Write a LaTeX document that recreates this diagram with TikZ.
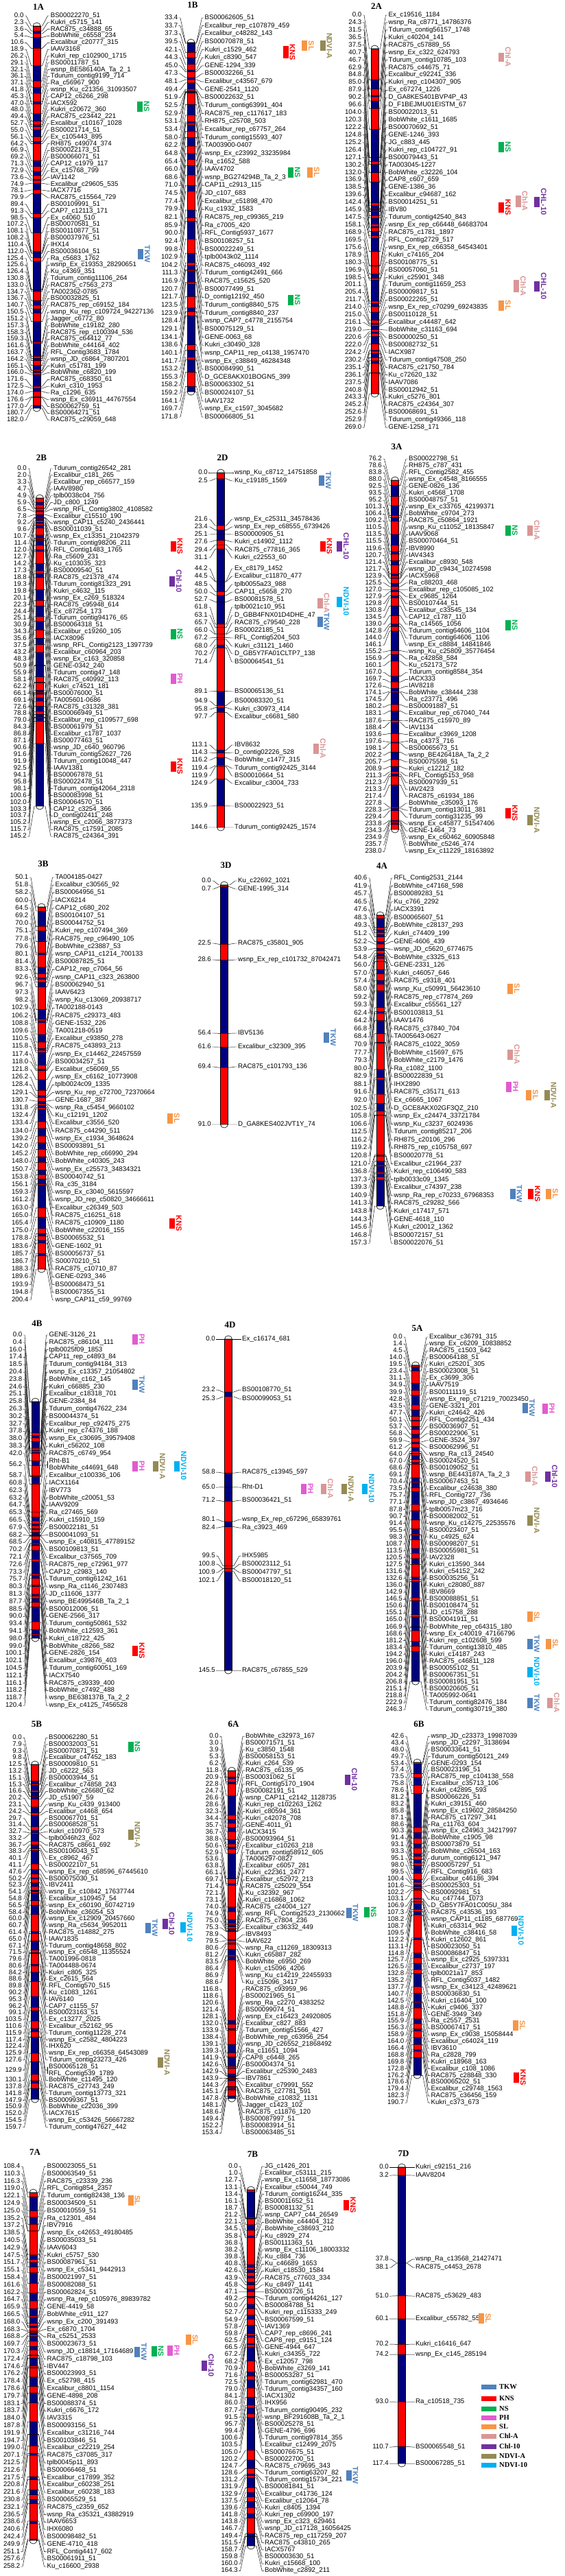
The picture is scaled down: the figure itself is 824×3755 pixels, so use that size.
\documentclass[tikz,border=0pt]{standalone}
\usepackage{fontspec}
\usepackage{tikz}
\newfontfamily\mkfont{Liberation Sans}
\newfontfamily\ttlfont{Liberation Serif}

\definecolor{chrr}{HTML}{FF0000}
\definecolor{chrb}{HTML}{000080}
\definecolor{TKW}{HTML}{4F81BD}
\definecolor{KNS}{HTML}{FF0000}
\definecolor{NS}{HTML}{00B050}
\definecolor{PH}{HTML}{E15BD0}
\definecolor{SL}{HTML}{F79646}
\definecolor{ChlA}{HTML}{D99694}
\definecolor{Chl10}{HTML}{7030A0}
\definecolor{NDVIA}{HTML}{948A54}
\definecolor{NDVI10}{HTML}{00B0F0}

\def\hw{5.5}
\newcounter{qn}

% bar centre, bar top/bottom, first/last cM, first label, label step, title y
\newcommand\setchr[8]{\def\xb{#1}\def\ya{#2}\def\yb{#3}\def\pa{#4}\def\pb{#5}\def\la{#6}\def\dy{#7}\def\ty{#8}\def\pr{-9}}

\newcommand\chrbody{%
  \draw[line width=0.6pt] (\xb-\hw,\ya) rectangle (\xb+\hw,\yb);
  \draw[line width=0.6pt,fill=white] (\xb-\hw,\ya) arc[start angle=180,end angle=360,x radius=\hw,y radius=5] -- cycle;
  \draw[line width=0.6pt,fill=white] (\xb-\hw,\yb) arc[start angle=180,end angle=0,x radius=\hw,y radius=5] -- cycle;
}

\newcommand\densechr[2]{%
  \pgfmathsetmacro\sc{(\yb-\ya)/(\pb-\pa)}%
  \pgfmathtruncatemacro\prn{\pr+1}%
  \node[ttl] (c#1) at (\xb+2.5,\ty) {#1};
  \foreach \p/\m [count=\i, remember=\p as \q (initially \pa)] in {#2}{%
    \ifodd\i\def\cc{chrb}\else\def\cc{chrr}\fi
    \fill[fill=\cc] (\xb-\hw,{\ya+(\q-\pa)*\sc}) rectangle (\xb+\hw,{\ya+(\p-\pa)*\sc});
  }
  \foreach \p/\m [count=\i] in {#2}{%
    \pgfmathsetmacro\yp{\ya+(\p-\pa)*\sc}%
    \pgfmathsetmacro\yl{\la+(\i-1)*\dy}%
    \node[mrk] (c#1-m\i) at (\xb+20,\yl) {\m};
    \ifnum\i=\pr\relax\else
      \ifnum\i=\prn\relax
        \draw[lnk] (\xb+18,\yl-\dy) -- (\xb+18,\yl);
        \pgfmathsetmacro\yl{\yl-\dy/2}%
        \node[num] (c#1-n\i) at (\xb-19,\yl) {\p};
        \draw[lnk] (c#1-n\i.east) ++(1,0) -- ++(2.5,0) -- (\xb-\hw-2.5,\yp) -- (\xb+\hw+2.5,\yp) -- (\xb+15,\yl) -- (\xb+18,\yl);
      \else
        \node[num] (c#1-n\i) at (\xb-19,\yl) {\p};
        \draw[lnk] (c#1-n\i.east) ++(1,0) -- ++(2.5,0) -- (\xb-\hw-2.5,\yp) -- (\xb+\hw+2.5,\yp) -- ([xshift=-4]c#1-m\i.west) -- ([xshift=-1]c#1-m\i.west);
      \fi
    \fi
  }
  \chrbody
}

\newcommand\sparsechr[2]{%
  \pgfmathsetmacro\sc{(\yb-\ya)/(\pb-\pa)}%
  \node[ttl] (c#1) at (\xb+2.5,\ty) {#1};
  \foreach \p/\lq/\m/\cl [remember=\p as \q (initially \pa)] in {#2}{%
    \fill[fill=chr\cl] (\xb-\hw,{\ya+(\q-\pa)*\sc}) rectangle (\xb+\hw,{\ya+(\p-\pa)*\sc});
  }
  \foreach \p/\lq/\m/\cl [count=\i] in {#2}{%
    \pgfmathsetmacro\yp{\ya+(\p-\pa)*\sc}%
    \node[mrk] (c#1-m\i) at (\xb+20,\lq) {\m};
    \node[num] (c#1-n\i) at (\xb-19,\lq) {\p};
    \draw[lnk] (c#1-n\i.east) ++(1,0) -- ++(2.5,0) -- (\xb-\hw-2.5,\yp) -- (\xb+\hw+2.5,\yp) -- ([xshift=-4]c#1-m\i.west) -- ([xshift=-1]c#1-m\i.west);
  }
  \chrbody
}

% [height] x, y, colour, trait
\newcommand\qtl[5][15]{%
  \stepcounter{qn}%
  \fill[fill=#4] (#2,#3-#1/2) rectangle ++(8,#1);
  \node[qlab,text=#4] (q\theqn) at (#2+14,#3) {#5};
}

\begin{document}
\catcode`\_=12
\begin{tikzpicture}[x=1pt,y=-1pt,
  mrk/.style={anchor=west,inner sep=0pt,text height=7pt,text depth=2pt,font=\mkfont\fontsize{9.7}{10}\selectfont},
  num/.style={anchor=east,inner sep=0pt,text height=7pt,text depth=2pt,font=\mkfont\fontsize{9.7}{10}\selectfont},
  lnk/.style={line width=0.45pt},
  ttl/.style={inner sep=0pt,font=\ttlfont\bfseries\fontsize{13}{13}\selectfont},
  qlab/.style={rotate=-90,inner sep=0pt,font=\mkfont\bfseries\fontsize{11}{11}\selectfont},
  leg/.style={anchor=west,inner sep=0pt,font=\ttlfont\bfseries\fontsize{10.5}{11}\selectfont}]
\useasboundingbox (0,0) rectangle (824,3755);

% 1A
\setchr{53.6}{38}{595}{0}{182}{23}{9.82}{10}
\densechr{1A}{0.0/BS00022270_51,
2.3/Kukri_c5715_141,
3.6/RAC875_c34888_65,
5.4/BobWhite_c6558_234,
10.6/Excalibur_c20777_315,
18.9/IAAV3168,
26.2/Kukri_rep_c102900_1715,
29.1/BS00011787_51,
32.1/wsnp_BE586140A_Ta_2_1,
36.1/Tdurum_contig9199_714,
37.1/Ra_c56967_900,
41.8/wsnp_Ku_c21356_31093507,
45.3/CAP12_c6266_298,
47.0/IACX592,
48.0/Kukri_c20672_360,
49.4/RAC875_c23442_221,
52.7/Excalibur_c10167_1028,
55.0/BS00021714_51,
56.1/Ex_c105443_895,
64.2/RH875_c49074_374,
66.9/BS00022173_51,
69.2/BS00066071_51,
71.3/CAP12_c1979_117,
72.9/Ex_c15768_799,
73.6/IAV1142,
74.9/Excalibur_c29605_535,
78.1/IACX7716,
79.9/RAC875_c15564_729,
89.4/BS00109991_51,
91.3/CAP7_c12113_171,
98.5/Ex_c4060_510,
107.2/BS00070581_51,
108.1/BS00110877_51,
108.2/BS00037976_51,
110.4/IHX14,
112.0/BS00036104_51,
125.4/Ra_c5683_1762,
125.6/wsnp_Ex_c19353_28290651,
126.4/Ku_c4369_351,
130.8/Tdurum_contig11106_264,
133.0/RAC875_c7563_273,
134.7/TA002362-0785,
136.7/BS00032825_51,
140.7/RAC875_rep_c69152_184,
150.5/wsnp_Ku_rep_c109724_94227136,
151.2/Jagger_c6772_80,
157.3/BobWhite_c19182_280,
158.3/RAC875_rep_c100394_536,
159.3/RAC875_c64412_77,
161.6/BobWhite_c44164_402,
163.7/RFL_Contig3683_1784,
164.2/wsnp_JD_c6864_7807201,
165.1/Kukri_c51781_199,
166.0/BobWhite_c6820_199,
171.6/RAC875_c68350_61,
172.5/Kukri_c310_1953,
174.0/Ra_c1296_635,
176.6/wsnp_Ex_c36911_44767554,
177.0/BS00062759_51,
180.7/BS00064271_51,
182.0/RAC875_c29059_648}

% 1B
\setchr{278.5}{62}{571}{33.4}{171.8}{26}{11.64}{7}
\densechr{1B}{33.4/BS00062605_51,
33.7/Excalibur_rep_c107879_459,
37.3/Excalibur_c48282_143,
39.5/BS00070878_51,
42.1/Kukri_c1529_462,
44.3/Kukri_c8390_547,
45.0/GENE-1294_339,
47.3/BS00032266_51,
48.1/Excalibur_c43567_679,
49.4/GENE-2541_1120,
51.9/BS00022632_51,
52.5/Tdurum_contig63991_404,
52.9/RAC875_rep_c117617_183,
53.1/RH875_c25708_503,
53.4/Excalibur_rep_c67757_264,
58.0/Tdurum_contig15593_407,
62.2/TA003900-0407,
64.8/wsnp_Ex_c23992_33235984,
65.4/Ra_c1652_588,
66.0/IAAV4702,
68.6/wsnp_BG274294B_Ta_2_3,
71.0/CAP11_c2913_115,
74.5/JD_c107_683,
77.4/Excalibur_c51898_470,
79.9/Ku_c1932_1583,
82.1/RAC875_rep_c99365_219,
85.9/Ra_c7005_420,
90.0/RFL_Contig5937_1677,
92.4/BS00108257_51,
99.8/BS00022249_51,
102.9/tplb0043k02_1114,
104.2/RAC875_c46093_492,
111.3/Tdurum_contig42491_666,
116.9/RAC875_c15625_520,
120.7/BS00077499_51,
121.7/D_contig12192_450,
123.5/Tdurum_contig8840_575,
123.9/Tdurum_contig8840_237,
128.4/wsnp_CAP7_c4778_2155754,
129.1/BS00075129_51,
134.1/GENE-0063_68,
138.6/Kukri_c30490_328,
140.1/wsnp_CAP11_rep_c4138_1957470,
141.7/wsnp_Ex_c38849_46284348,
153.2/BS00084990_51,
155.3/D_GCE8AKX01BOGN5_399,
158.2/BS00063302_51,
159.2/BS00024107_51,
164.1/IAAV1732,
169.7/wsnp_Ex_c1597_3045682,
171.8/BS00066805_51}

% 2A
\setchr{546.5}{71}{574}{0}{269}{22}{10.93}{9}
\densechr{2A}{0.0/Ex_c19516_1184,
24.3/wsnp_Ra_c8771_14786376,
31.5/Tdurum_contig56157_1748,
36.5/Kukri_c40204_141,
37.5/RAC875_c57889_55,
40.7/wsnp_Ex_c322_624793,
46.7/Tdurum_contig10785_103,
62.9/RAC875_c44675_71,
84.8/Excalibur_c92241_336,
85.0/Kukri_rep_c104307_905,
87.9/Ex_c67274_1226,
90.2/D_GA8KES401BVP4P_43,
96.6/D_F1BEJMU01EISTM_67,
104.0/BS00022013_51,
120.3/BobWhite_c1611_1685,
122.2/BS00070692_51,
124.8/GENE-1246_393,
125.2/JG_c883_445,
126.4/Kukri_rep_c104727_91,
127.1/BS00079443_51,
130.2/TA003045-1227,
132.0/BobWhite_c32226_104,
136.9/CAP8_c607_659,
138.5/GENE-1386_36,
139.6/Excalibur_c94687_162,
142.4/BS00014251_51,
145.9/IBV80,
147.5/Tdurum_contig42540_843,
158.1/wsnp_Ex_rep_c66448_64683704,
168.9/RAC875_c1781_1897,
169.5/RFL_Contig2729_517,
175.6/wsnp_Ex_rep_c66358_64543401,
178.9/Kukri_c74165_204,
180.3/BS00108775_51,
196.9/BS00057060_51,
198.5/Kukri_c25901_348,
201.1/Tdurum_contig11659_253,
205.4/BS00009817_51,
211.7/BS00022265_51,
214.0/wsnp_Ex_rep_c70299_69243835,
215.0/BS00110128_51,
216.1/Excalibur_c44487_642,
219.0/BobWhite_c31163_694,
220.6/BS00000250_51,
222.0/BS00082732_51,
224.2/IACX987,
230.2/Tdurum_contig47508_250,
235.1/RAC875_c21750_784,
236.1/Ku_c72620_132,
237.5/IAAV7086,
240.8/BS00012942_51,
243.3/Kukri_c5276_801,
245.2/RAC875_c24364_307,
252.6/BS00068691_51,
252.9/Tdurum_contig49366_118,
269.0/GENE-1258_171}

% 2B
\setchr{58}{726}{1175}{0}{145.2}{683}{9.93}{667}
\densechr{2B}{0.0/Tdurum_contig26542_281,
2.0/Excalibur_c181_265,
3.3/Excalibur_rep_c66577_159,
4.7/IAAV8980,
4.9/tplb0038c04_756,
5.9/JD_c800_1249,
6.5/wsnp_RFL_Contig3802_4108582,
7.8/Excalibur_c15510_190,
9.2/wsnp_CAP11_c5240_2436441,
9.6/BS00011039_51,
10.7/wsnp_Ex_c13351_21042379,
11.4/Tdurum_contig98206_211,
12.0/RFL_Contig1483_1765,
12.7/Ra_c5609_231,
14.2/Ku_c103035_323,
17.3/BS00009540_51,
18.8/RAC875_c21378_474,
19.3/Tdurum_contig81323_291,
19.8/Kukri_c4632_115,
20.1/wsnp_Ex_c269_518324,
22.3/RAC875_c95948_614,
24.4/Ex_c87254_173,
25.1/Tdurum_contig94176_65,
30.9/BS00064318_51,
34.3/Excalibur_c19260_105,
35.6/IACX8096,
37.5/wsnp_RFL_Contig2123_1397739,
43.2/Excalibur_c60964_203,
48.3/wsnp_Ex_c163_320858,
50.9/GENE-0342_240,
55.9/Tdurum_contig47_148,
58.1/RAC875_c40992_113,
62.2/Kukri_c74521_181,
66.1/BS00076000_51,
69.1/TA005601-0686,
72.6/RAC875_c31328_381,
78.8/BS00066949_51,
79.0/Excalibur_rep_c109577_698,
84.3/BS00061979_51,
86.8/Excalibur_c1787_1037,
87.1/BS00077463_51,
90.6/wsnp_JD_c640_960796,
91.6/Tdurum_contig52627_726,
91.9/Tdurum_contig10048_447,
92.5/IAAV1381,
94.1/BS00067878_51,
95.8/BS00022478_51,
98.1/Tdurum_contig42064_2318,
100.6/BS00083998_51,
102.0/BS00064570_51,
103.3/CAP12_c3254_366,
103.7/D_contig02411_248,
105.2/wsnp_Ex_c2066_3877373,
115.7/RAC875_c17591_2085,
145.2/RAC875_c24364_391}

% 2D
\setchr{322}{689}{1206}{0}{144.6}{0}{0}{667}
\sparsechr{2D}{0.0/689/wsnp_Ku_c8712_14751858/r,
2.5/701/Ku_c19185_1569/r,
21.6/757/wsnp_Ex_c25311_34578436/b,
23.4/768/wsnp_Ex_rep_c68555_6739426/r,
25.1/779/BS00000905_51/b,
27.6/790/Kukri_c14902_1112/b,
29.4/802/RAC875_c77816_365/r,
31.1/813/Kukri_c22553_60/r,
44.2/829/Ex_c8179_1452/b,
44.5/840/Excalibur_c11870_477/b,
48.5/852/tplb0055a23_988/b,
50.0/863/CAP11_c5658_270/r,
52.7/874/BS00081578_51/b,
61.8/885/tplb0021c10_951/b,
63.1/897/D_GBB4FNX01D4DHE_47/r,
65.7/908/RAC875_c79540_228/r,
66.0/919/BS00022185_51/r,
67.2/930/RFL_Contig5204_503/r,
68.0/942/Kukri_c31121_1460/r,
70.2/953/D_GB5Y7FA01CLTP7_138/r,
71.4/965/BS00064541_51/b,
89.1/1008/BS00065136_51/r,
94.9/1022/BS00083320_51/b,
95.8/1034/Kukri_c30973_414/r,
97.7/1045/Excalibur_c6681_580/b,
113.1/1086/IBV8632/r,
114.3/1097/D_contig02226_528/b,
116.2/1108/BobWhite_c1477_315/r,
119.4/1120/Tdurum_contig92425_3144/b,
119.9/1131/BS00010664_51/r,
124.9/1142/Excalibur_c3004_733/r,
135.9/1175/BS00022923_51/b,
144.6/1206/Tdurum_contig92425_1574/r}

% 3A
\setchr{576}{700}{1209}{76.2}{238}{669}{10.04}{651}
\densechr{3A}{76.2/BS00022798_51,
78.6/RH875_c787_431,
83.8/RFL_Contig2582_455,
88.0/wsnp_Ex_c4548_8166555,
92.5/GENE-0826_136,
93.5/Kukri_c4568_1708,
95.2/BS00048757_51,
101.3/wsnp_Ex_c33765_42199371,
106.4/BobWhite_c9704_273,
109.2/RAC875_c50864_1921,
110.5/wsnp_Ku_c11052_18135847,
113.5/IAAV9068,
115.5/BS00070464_51,
119.6/IBV8990,
120.7/IAV4343,
121.4/Excalibur_c8930_548,
121.7/wsnp_JD_c9434_10274598,
123.9/IACX5968,
125.5/Ra_c88203_468,
127.0/Excalibur_rep_c105085_102,
127.9/Ex_c9685_1264,
129.8/BS00107444_51,
130.8/Excalibur_c33545_134,
134.5/CAP12_c1787_110,
139.0/Ra_c14565_1056,
142.8/Tdurum_contig64606_1104,
144.0/Tdurum_contig64606_1106,
146.1/wsnp_Ex_c8884_14841846,
155.2/wsnp_Ku_c25809_35776454,
156.9/Ra_c42858_584,
160.1/Ku_c52173_572,
167.0/Tdurum_contig8584_354,
169.7/IACX333,
172.6/IAV8218,
174.1/BobWhite_c38444_238,
174.5/Ra_c23771_496,
180.2/BS00091887_51,
183.1/Excalibur_rep_c67040_744,
187.6/RAC875_c15970_89,
188.4/IAV1134,
193.6/Excalibur_c3969_1208,
197.6/Ra_c4373_716,
198.1/BS00065673_51,
202.2/wsnp_BE426418A_Ta_2_2,
205.7/BS00075598_51,
208.9/Kukri_c12212_182,
211.3/RFL_Contig5153_958,
212.3/BS00097939_51,
213.3/IAV2423,
217.4/RAC875_c61934_186,
227.8/BobWhite_c35093_176,
228.3/Tdurum_contig13011_381,
229.4/Tdurum_contig31235_99,
233.8/wsnp_Ex_c45877_51547406,
234.3/GENE-1464_73,
234.9/wsnp_Ex_c60462_60905848,
235.7/BobWhite_c5246_474,
238.0/wsnp_Ex_c11229_18163892}

% 3B
\setchr{60.5}{1322}{1850}{50.1}{200.4}{1279}{11.2}{1259}
\densechr{3B}{50.1/TA004185-0427,
51.8/Excalibur_c30565_92,
58.2/BS00064956_51,
60.0/IACX6214,
64.5/CAP12_c680_202,
69.2/BS00104107_51,
70.0/BS00044752_51,
75.1/Kukri_rep_c107494_369,
77.8/RAC875_rep_c96490_105,
79.6/BobWhite_c23887_53,
80.1/wsnp_CAP11_c1214_700133,
81.4/BS00087825_51,
83.3/CAP12_rep_c7064_56,
92.6/wsnp_CAP11_c323_263800,
96.7/BS00062940_51,
97.3/IAAV6423,
98.2/wsnp_Ku_c13069_20938717,
102.9/TA002188-0143,
106.2/RAC875_c29373_483,
108.8/GENE-1532_226,
109.6/TA001218-0519,
110.5/Excalibur_c93850_278,
115.8/RAC875_c43893_213,
117.4/wsnp_Ex_c14462_22457559,
118.0/BS00034257_51,
121.8/Excalibur_c56069_55,
126.2/wsnp_Ex_c6162_10773908,
128.4/tplb0024c09_1335,
129.1/wsnp_Ku_rep_c72700_72370664,
130.7/GENE-1687_387,
131.8/wsnp_Ra_c5454_9660102,
132.4/Ku_c12191_1202,
133.4/Excalibur_c3556_520,
134.0/RAC875_c44290_511,
139.2/wsnp_Ex_c1934_3648624,
142.0/BS00093891_51,
145.2/BobWhite_rep_c66990_294,
148.0/BobWhite_c40305_243,
150.7/wsnp_Ex_c25573_34834321,
153.8/BS00040742_51,
156.1/Ra_c35_3184,
159.3/wsnp_Ex_c3040_5615597,
161.2/wsnp_JD_rep_c50820_34666611,
163.0/Excalibur_c26349_503,
165.0/RAC875_c16251_618,
165.4/RAC875_c10909_1180,
175.0/BobWhite_c22016_155,
178.8/BS00065532_51,
183.6/GENE-1602_91,
185.7/BS00056737_51,
186.7/S00070210_51,
188.3/RAC875_c10710_87,
189.6/GENE-0293_346,
193.9/BS00068473_51,
194.8/BS00067355_51,
200.4/wsnp_CAP11_c59_99769}

% 3D
\setchr{327}{1290}{1639}{0}{91}{0}{0}{1261}
\sparsechr{3D}{0.0/1284/Ku_c22692_1021/r,
0.7/1296/GENE-1995_314/r,
22.5/1375/RAC875_c35801_905/b,
28.6/1399/wsnp_Ex_rep_c101732_87042471/r,
56.4/1506/IBV5136/b,
61.6/1526/Excalibur_c32309_395/r,
69.4/1555/RAC875_c101793_136/b,
91.0/1639/D_GA8KES402JVT1Y_74/r}

% 4A
\setchr{554.5}{1334}{1758}{40.6}{157.3}{1280}{11.57}{1262}
\densechr{4A}{40.6/RFL_Contig2531_2144,
41.9/BobWhite_c47168_598,
45.7/BS00089283_51,
46.5/Ku_c766_2292,
47.6/IACX3391,
48.3/BS00065607_51,
49.3/BobWhite_c28137_293,
51.2/Kukri_c74409_199,
52.2/GENE-4606_439,
53.9/wsnp_JD_c5620_6774675,
54.8/BobWhite_c3325_613,
56.0/GENE-2331_126,
57.0/Kukri_c46057_646,
57.4/RAC875_c9318_401,
58.0/wsnp_Ku_c50991_56423610,
59.2/RAC875_rep_c77874_269,
59.3/Excalibur_c55561_127,
62.4/BS00103813_51,
64.2/IAAV1476,
66.8/RAC875_c37840_704,
68.4/TA005643-0627,
70.9/RAC875_c1022_3059,
77.7/BobWhite_c15697_675,
79.3/BobWhite_c2179_1476,
80.0/Ra_c1082_1100,
82.9/BS00022839_51,
88.1/IHX2890,
91.6/RAC875_c35171_613,
92.0/Ex_c6665_1067,
102.5/D_GCE8AKX02GF3QZ_210,
105.8/wsnp_Ex_c24474_33721784,
106.6/wsnp_Ku_c3237_6024936,
112.5/Tdurum_contig85217_206,
116.2/RH875_c20106_296,
119.2/RH875_rep_c105758_697,
120.8/BS00020778_51,
121.0/Excalibur_c21964_237,
136.8/Kukri_rep_c106490_583,
137.3/tplb0033c09_1345,
139.3/Excalibur_c74397_238,
140.9/wsnp_Ra_rep_c70233_67968353,
141.3/RAC875_c29282_566,
143.8/Kukri_c17417_571,
144.3/GENE-4618_110,
145.6/Kukri_c20012_1362,
146.8/BS00072157_51,
157.3/BS00022076_51}

% 4B
\setchr{51.5}{2043}{2388}{0}{120.4}{1946}{10.8}{1929}
\def\pr{18}
\densechr{4B}{0.0/GENE-3126_21,
0.4/RAC875_c86104_111,
16.0/tplb0025f09_1853,
17.4/CAP11_rep_c4893_84,
18.5/Tdurum_contig94184_313,
20.4/wsnp_Ex_c13357_21054802,
23.8/BobWhite_c162_145,
24.6/Kukri_c66885_230,
25.1/Excalibur_c18318_701,
25.8/GENE-2384_84,
26.3/Tdurum_contig47622_234,
30.2/BS00044374_51,
32.7/Excalibur_rep_c92475_275,
37.8/Kukri_rep_c74376_188,
38.0/wsnp_Ex_c30695_39579408,
38.3/Kukri_c56202_108,
42.0/RAC875_c6749_954,
56.2/Rht-B1,
56.2/BobWhite_c44691_648,
58.7/Excalibur_c100336_106,
60.8/IACX1164,
62.3/IBV773,
63.2/BobWhite_c20051_53,
64.7/IAAV9209,
65.3/Ra_c27465_569,
66.5/Kukri_c15910_159,
67.9/BS00022181_51,
68.2/BS00041093_51,
68.5/wsnp_Ex_c40815_47789152,
70.2/BS00109813_51,
72.1/Excalibur_c37565_709,
72.6/RAC875_rep_c72961_977,
73.3/CAP12_c2983_140,
75.7/Tdurum_contig61242_161,
80.3/wsnp_Ra_c1146_2307483,
81.3/JD_c11606_1377,
87.7/wsnp_BE499546B_Ta_2_1,
88.5/BS00012006_51,
90.0/GENE-2566_317,
93.4/Tdurum_contig50861_532,
94.1/BobWhite_c12593_361,
98.0/Kukri_c18722_425,
99.0/BobWhite_c8266_582,
100.1/GENE-2826_154,
102.1/Excalibur_c39876_403,
104.5/Tdurum_contig60051_169,
112.1/IACX7540,
116.1/RAC875_c39339_400,
118.2/BobWhite_c7492_488,
118.7/wsnp_BE638137B_Ta_2_2,
120.4/wsnp_Ex_c4125_7456528}

% 4D
\setchr{333}{1952}{2435}{0}{145.5}{0}{0}{1931}
\sparsechr{4D}{0.0/1952/Ex_c16174_681/r,
23.2/2026/BS00108770_51/r,
25.3/2039/BS00099053_51/b,
58.8/2146/RAC875_c13945_597/r,
65.0/2168/Rht-D1/b,
71.2/2187/BS00036421_51/b,
80.1/2215/wsnp_Ex_rep_c67296_65839761/r,
82.4/2227/Ra_c3923_469/b,
99.5/2268/IHX5985/r,
100.8/2280/BS00023112_51/r,
100.9/2292/BS00047797_51/b,
102.1/2304/BS00018120_51/r,
145.5/2435/RAC875_c67855_529/b}

% 5A
\setchr{606}{1990}{2451}{0}{246.3}{1949}{10.06}{1936}
\densechr{5A}{0.0/Excalibur_c36791_315,
1.4/wsnp_Ex_c6209_10838852,
4.5/RAC875_c1503_642,
14.0/BS00064188_51,
19.5/Kukri_c25201_305,
23.4/BS00023008_51,
31.1/Ex_c3699_306,
34.9/IAAV7519,
39.9/BS00111119_51,
42.8/wsnp_Ex_rep_c71219_70023450,
43.5/GENE-3321_201,
47.7/Kukri_c24642_426,
50.1/RFL_Contig2251_434,
53.7/BS00036907_51,
56.8/BS00022906_51,
59.9/GENE-3524_397,
61.2/BS00062996_51,
64.0/wsnp_Ra_c13_24540,
67.0/BS00024520_51,
68.6/BS00109052_51,
69.1/wsnp_BE443187A_Ta_2_3,
70.4/BS00067453_51,
73.5/Excalibur_c24638_380,
75.7/RFL_Contig727_736,
77.1/wsnp_JD_c3867_4934646,
87.8/tplb0057m23_716,
90.7/BS00082002_51,
91.4/wsnp_Ku_c14275_22535576,
95.5/BS00023407_51,
98.3/Ku_c4925_624,
108.7/BS00098207_51,
113.5/BS00055981_51,
120.5/IAV2328,
127.5/Kukri_c13590_344,
131.6/Kukri_c54152_242,
132.6/BS00035256_51,
136.0/Kukri_c28080_887,
142.9/IBV8669,
146.5/BS00088851_51,
150.6/BS00108474_51,
155.1/JD_c15758_288,
165.0/BS00041911_51,
166.9/BobWhite_rep_c64315_180,
168.6/wsnp_Ex_c40019_47166796,
181.2/Kukri_rep_c102608_599,
183.4/Tdurum_contig13810_485,
194.2/Kukri_c14187_243,
196.0/RAC875_c46811_128,
203.9/BS00055102_51,
204.2/BS00067351_51,
206.8/BS00081951_51,
215.1/BS00020605_51,
218.8/TA005992-0641,
222.9/Tdurum_contig82476_184,
246.3/Tdurum_contig30719_380}

% 5B
\setchr{51}{2572}{3060}{0}{159.7}{2533}{9.79}{2513}
\def\pr{50}
\densechr{5B}{0.0/BS00062280_51,
7.9/BS00032003_51,
9.3/BS00070871_51,
9.8/Excalibur_c47452_183,
12.5/BS00009810_51,
13.2/JD_c6222_563,
15.1/BS00003944_51,
15.3/Excalibur_c74858_243,
16.6/BobWhite_c26680_62,
20.2/JD_c51907_59,
23.1/wsnp_Ku_c439_913400,
24.2/Excalibur_c4468_654,
29.7/BS00067701_51,
31.4/BS00068528_51,
32.7/Kukri_c10970_573,
33.2/tplb0046h23_602,
36.7/RAC875_c8661_692,
38.3/BS00106043_51,
40.1/Ex_c8962_467,
41.1/BS00022107_51,
47.6/wsnp_Ex_rep_c68596_67445610,
50.2/BS00075030_51,
52.3/IBV2411,
54.1/wsnp_Ex_c10842_17637744,
54.8/Excalibur_s109457_54,
56.5/wsnp_Ex_c60190_60742719,
58.4/BobWhite_c36054_53,
60.0/wsnp_Ex_c12909_20457660,
60.7/wsnp_Ra_c5634_9952011,
61.4/RAC875_c14882_275,
65.0/IAAV1835,
67.1/Tdurum_contig48658_802,
71.5/wsnp_Ex_c6548_11355524,
79.6/TA001996-0818,
80.6/TA004488-0674,
84.2/Kukri_c805_325,
88.6/Ex_c2615_564,
89.8/RFL_Contig570_515,
90.2/Ku_c1083_1261,
95.3/IAV6140,
96.2/CAP7_c1155_57,
99.1/BS00023163_51,
103.5/Ex_c13277_2025,
110.6/Excalibur_c52162_95,
115.9/Tdurum_contig11228_274,
117.4/wsnp_Ex_c2582_4804223,
122.4/IHX620,
125.9/wsnp_Ex_rep_c66358_64543089,
127.6/Tdurum_contig23273_426,
129.9/BS00065128_51,
129.9/RFL_Contig539_1789,
130.1/BobWhite_c11495_120,
137.8/RAC875_c27743_249,
141.8/Tdurum_contig13773_321,
147.9/BS00099367_51,
150.9/BobWhite_c22036_399,
152.0/IACX7615,
154.5/wsnp_Ex_c53426_56667282,
159.7/Tdurum_contig47627_442}

% 6A
\setchr{338}{2581}{3059}{0}{153.4}{2531}{9.97}{2513}
\densechr{6A}{0.0/BobWhite_c32973_167,
3.0/BS00071571_51,
3.9/Ku_c3850_1548,
5.3/BS00058153_51,
6.2/Kukri_c264_539,
11.8/RAC875_c6135_95,
20.9/BS00031062_51,
22.8/RFL_Contig5170_1904,
24.7/BS00082191_51,
26.6/wsnp_CAP11_c2142_1128735,
28.6/Kukri_rep_c102263_1262,
32.3/Kukri_c80594_361,
34.4/Kukri_c42078_708,
35.7/GENE-4011_91,
36.7/IACX3415,
38.8/BS00093964_51,
50.6/Excalibur_c10263_218,
52.9/Tdurum_contig58912_605,
53.6/TA006297-0827,
63.8/Excalibur_c6057_281,
66.1/Kukri_c22361_2477,
69.7/Excalibur_c52972_213,
71.4/RAC875_c25029_554,
72.1/Ku_c32392_967,
73.1/Kukri_c16868_1062,
74.0/RAC875_c24004_127,
74.9/wsnp_RFL_Contig2523_2130662,
75.0/RAC875_c7804_236,
75.3/Excalibur_c36332_449,
78.9/IBV8493,
79.5/IAAV622,
80.6/wsnp_Ra_c11269_18309313,
81.2/Kukri_c65887_282,
83.5/BobWhite_c6950_269,
86.4/Kukri_c15096_4206,
86.9/wsnp_Ku_c14219_22455933,
88.6/Ku_c15096_3417,
116.8/RAC875_c93959_96,
118.6/BS00021965_51,
120.6/wsnp_Ra_c2270_4383252,
121.4/BS00099074_51,
128.1/wsnp_Ex_c16423_24920805,
132.0/Excalibur_c827_883,
133.9/Tdurum_contig51566_427,
138.4/BobWhite_rep_c63956_254,
139.1/wsnp_JD_c26552_21868492,
139.3/Ra_c11651_1094,
141.9/CAP8_c6448_265,
142.6/BS00004374_51,
142.9/Excalibur_c25390_2483,
143.9/IBV7861,
144.3/Excalibur_c79991_552,
145.1/RAC875_c27781_591,
147.8/BobWhite_c10832_1131,
148.1/Jagger_c1423_102,
148.6/RAC875_c11876_120,
149.4/BS00087997_51,
152.2/BS00083914_51,
153.4/BS00063485_51}

% 6B
\setchr{608.5}{2569}{3025}{42.6}{190.7}{2531}{9.89}{2513}
\densechr{6B}{42.6/wsnp_JD_c23373_19987039,
43.4/wsnp_JD_c2297_3138694,
48.0/BS00033641_51,
49.7/Tdurum_contig50121_249,
53.4/GENE-0293_154,
57.4/BS00023196_51,
73.5/RAC875_rep_c104138_558,
75.8/Excalibur_c35713_106,
78.6/Kukri_c42895_593,
81.2/BS00066226_51,
83.2/Kukri_c39151_460,
85.8/wsnp_Ex_c19602_28584250,
87.1/RAC875_c17297_341,
88.6/Ra_c11763_604,
90.3/wsnp_Ex_c24963_34217997,
91.4/BobWhite_c1905_98,
93.1/BS00073879_51,
93.3/BobWhite_c26504_163,
95.1/durum_contig6121_947,
98.0/BS00057297_51,
99.5/RFL_Contig916_683,
100.4/Excalibur_c46186_394,
101.6/BS00025303_51,
102.2/BS00092981_51,
103.1/Ku_c47744_1073,
106.9/D_GB5Y7FA01C005U_384,
107.3/RAC875_c43536_193,
108.2/wsnp_CAP11_c1185_687769,
108.7/Kukri_c63314_962,
109.5/BobWhite_c38416_58,
112.2/Kukri_c12602_861,
113.1/BS00023050_51,
114.8/BS00086847_51,
125.7/wsnp_Ex_c2925_5397331,
126.5/Excalibur_c2737_197,
132.8/tplb0021a17_853,
135.2/RFL_Contig5037_1482,
137.7/wsnp_Ex_c34123_42489621,
140.7/BS00036830_51,
142.5/Kukri_c16404_100,
148.8/Kukri_c9406_337,
151.8/GENE-3949_349,
155.9/Ra_c2557_2531,
156.3/BS00067417_51,
158.9/wsnp_Ex_c9038_15058444,
164.0/Excalibur_c64024_119,
166.4/IBV3610,
168.8/Ra_c2828_799,
169.8/Kukri_c18968_163,
172.8/Excalibur_c108_1086,
176.2/RAC875_c28848_330,
178.6/BS00065202_51,
179.4/Excalibur_c29748_1563,
182.3/RAC875_c36456_159,
190.7/Kukri_c373_673}

% 7A
\setchr{48.5}{3196}{3703}{108.4}{258.2}{3158}{10.8}{3137}
\densechr{7A}{108.4/BS00023055_51,
110.3/BS00063549_51,
116.3/RAC875_c23339_236,
119.0/RFL_Contig854_2357,
122.1/Tdurum_contig82438_136,
124.9/BS00034509_51,
125.0/BS00010559_51,
135.2/Ra_c12301_484,
137.2/IBV7916,
138.5/wsnp_Ex_c42653_49180485,
140.5/BS00035033_51,
142.9/IAAV6043,
147.5/Kukri_c5757_530,
151.7/BS00087961_51,
155.1/wsnp_Ex_c5341_9442913,
158.4/BS00021997_51,
161.6/BS00082088_51,
162.2/BS00062824_51,
164.7/wsnp_Ra_rep_c105976_89839782,
165.9/GENE-4419_58,
166.5/BobWhite_c911_127,
168.0/wsnp_Ex_c200_391493,
168.3/Ex_c6870_1704,
168.8/Ra_c5251_2533,
169.7/BS00023673_51,
170.3/wsnp_JD_c18814_17164689,
172.4/RAC875_c18798_103,
174.6/IBV447,
176.2/BS00023993_51,
178.4/Ex_c52798_415,
178.6/Excalibur_c8801_1154,
179.7/GENE-4898_208,
183.1/BS00088374_51,
183.7/Kukri_c6676_172,
184.0/IAV3315,
187.8/BS00093156_51,
191.9/Excalibur_c31216_744,
194.7/BS00103846_51,
199.0/Excalibur_c22219_254,
207.1/RAC875_c37085_317,
212.5/tplb0045p11_893,
212.6/BS00066468_51,
217.5/Excalibur_c17899_352,
220.8/Excalibur_c60238_251,
221.6/Excalibur_c60238_183,
230.8/BS00065529_51,
232.1/RAC875_c2359_652,
236.5/wsnp_Ra_c35321_43882919,
238.6/IAAV6653,
240.6/IHX6080,
242.4/BS00098482_51,
249.9/GENE-4710_418,
251.1/RFL_Contig4417_602,
257.6/BS00061911_51,
258.2/Ku_c16600_2938}

% 7B
\setchr{366}{3192}{3711}{0}{164.3}{3158}{10.16}{3140}
\densechr{7B}{0.0/JG_c1426_201,
1.0/Excalibur_c53111_215,
12.7/wsnp_Ex_c11658_18773086,
13.1/Excalibur_c50044_749,
13.4/Tdurum_contig16244_335,
16.1/BS00011652_51,
18.7/BS00081132_51,
21.2/wsnp_CAP7_c44_26549,
22.1/BobWhite_c44404_312,
34.5/BobWhite_c38693_210,
35.8/Ku_c8929_274,
36.8/BS00111363_51,
38.2/wsnp_Ex_c11106_18003332,
39.8/Ku_c884_736,
40.8/Ku_c46689_1653,
42.6/Kukri_c18530_1584,
43.9/RAC875_c77603_334,
45.8/Ku_c8497_1141,
47.1/BS00003726_51,
49.2/Tdurum_contig44261_127,
50.0/BS00084788_51,
52.7/Kukri_rep_c115333_249,
54.9/BS00067599_51,
57.8/IAV1369,
59.8/CAP7_rep_c8696_241,
62.5/CAP8_rep_c9151_124,
66.5/GENE-4944_647,
67.2/Kukri_c34355_722,
68.2/Ex_c12057_798,
70.9/BobWhite_c3269_141,
71.6/BS00053287_51,
72.5/Tdurum_contig62981_470,
79.0/Tdurum_contig34357_160,
84.1/IACX1302,
86.0/IHX956,
87.7/Tdurum_contig90495_232,
91.5/wsnp_BF291608B_Ta_2_1,
95.7/BS00025278_51,
99.4/GENE-4796_696,
100.6/Tdurum_contig97814_355,
103.5/Excalibur_c12499_2075,
105.0/BS00076675_51,
120.2/BS00022700_51,
124.7/RAC875_c79695_343,
128.6/Tdurum_contig63207_82,
131.2/Tdurum_contig15734_221,
131.9/BS00081841_51,
132.9/Excalibur_c41736_124,
137.5/Excalibur_c12064_78,
139.6/Kukri_c8405_1394,
141.8/Kukri_rep_c69900_197,
143.8/wsnp_Ex_c323_629461,
146.7/wsnp_JD_c17128_16056425,
149.4/RAC875_rep_c117259_207,
151.5/RAC875_c43810_265,
158.7/IACX5767,
159.8/BS00003630_51,
160.0/Kukri_c15668_100,
164.3/BobWhite_c2892_211}

% 7D
\setchr{586}{3159}{3591}{0}{117.4}{0}{0}{3139}
\sparsechr{7D}{0.0/3159/Kukri_c92151_216/r,
3.2/3171/IAAV8204/r,
37.8/3293/wsnp_Ra_c13568_21427471/b,
38.1/3305/RAC875_c4453_2678/b,
51.0/3347/RAC875_c53629_483/b,
60.1/3380/Excalibur_c55782_55/r,
70.2/3417/Kukri_c16416_647/b,
74.2/3432/wsnp_Ex_c145_285194/r,
93.0/3501/Ra_c10518_735/b,
110.7/3567/BS00065548_51/r,
117.4/3591/BS00067285_51/b}

% trait intervals
\qtl{200}{155}{NS}{NS}
\qtl{201}{370}{TKW}{TKW}
\qtl[17]{412.5}{76}{KNS}{KNS}
\qtl{440}{67}{SL}{SL}
\qtl{466.5}{67}{NDVIA}{NDVI-A}
\qtl{420}{251}{NS}{NS}
\qtl{448}{251}{SL}{SL}
\qtl{420}{437}{NS}{NS}
\qtl[13]{727}{83}{ChlA}{Chl-A}
\qtl{727}{214}{NS}{NS}
\qtl{727}{302}{KNS}{KNS}
\qtl[17]{751.5}{293}{ChlA}{Chl-A}
\qtl{779}{294}{Chl10}{CHL-10}
\qtl[18]{749}{417}{ChlA}{Chl-A}
\qtl{779}{417}{Chl10}{CHL-10}
\qtl{727}{445}{SL}{SL}
\qtl{248.5}{796}{KNS}{KNS}
\qtl{247}{847}{Chl10}{Chl-10}
\qtl{248.5}{924}{NS}{NS}
\qtl{248.5}{989}{PH}{PH}
\qtl{248.5}{1117}{KNS}{KNS}
\qtl{465}{700}{TKW}{TKW}
\qtl{466.5}{796}{KNS}{KNS}
\qtl{491}{796}{Chl10}{CHL-10}
\qtl{462.5}{879}{ChlA}{Chl-A}
\qtl{491}{877}{NDVI10}{NDVI-10}
\qtl{462.5}{906}{TKW}{TKW}
\qtl{457}{1091}{ChlA}{Chl-A}
\qtl{737}{773}{NS}{NS}
\qtl{769}{773}{ChlA}{Chl-A}
\qtl{737}{911}{NS}{NS}
\qtl{737}{1185}{KNS}{KNS}
\qtl{769}{1195}{NDVIA}{NDVI-A}
\qtl{244}{1630}{SL}{SL}
\qtl{247}{1783}{KNS}{KNS}
\qtl{472}{1512}{TKW}{TKW}
\qtl{740}{1441}{SL}{SL}
\qtl{740}{1537}{ChlA}{Chl-A}
\qtl{738}{1584}{PH}{PH}
\qtl{767}{1596}{SL}{SL}
\qtl{793.5}{1596}{NDVIA}{NDVI-A}
\qtl{743.5}{1740}{TKW}{TKW}
\qtl{770}{1740}{KNS}{KNS}
\qtl{796}{1740}{SL}{SL}
\qtl{193}{1952}{PH}{PH}
\qtl{193}{2018}{TKW}{TKW}
\qtl{193}{2137}{PH}{PH}
\qtl{223}{2137}{NDVIA}{NDVI-A}
\qtl{254}{2137}{NDVI10}{NDVI-10}
\qtl{193}{2406}{KNS}{KNS}
\qtl{439}{2170}{PH}{PH}
\qtl{468}{2170}{ChlA}{Chl-A}
\qtl{498}{2170}{NDVIA}{NDVI-A}
\qtl{528}{2170}{NDVI10}{NDVI-10}
\qtl{762}{2052}{TKW}{TKW}
\qtl{791}{2053}{PH}{PH}
\qtl{766}{2152}{ChlA}{Chl-A}
\qtl{795}{2152}{Chl10}{Chl-10}
\qtl{769}{2216}{NDVIA}{NDVI-A}
\qtl{769}{2356}{SL}{SL}
\qtl{769}{2396}{TKW}{TKW}
\qtl{796}{2396}{SL}{SL}
\qtl{769}{2437}{NDVI10}{NDVI-10}
\qtl{769}{2482}{TKW}{TKW}
\qtl{798}{2482}{ChlA}{Chl-A}
\qtl{186.5}{2546}{NS}{NS}
\qtl{186.5}{2674}{NDVIA}{NDVI-A}
\qtl{212}{2810}{TKW}{TKW}
\qtl{236.5}{2804}{Chl10}{Chl-10}
\qtl{263}{2809}{NDVI10}{NDVI-10}
\qtl{229.6}{3006}{NDVIA}{NDVI-A}
\qtl{503}{2594}{Chl10}{Chl-10}
\qtl{504.5}{2788}{TKW}{TKW}
\qtl{531}{2787}{NS}{NS}
\qtl{746}{2814}{NDVI10}{NDVI-10}
\qtl{748}{2952}{SL}{SL}
\qtl{749}{3028}{KNS}{KNS}
\qtl{186.5}{3207}{SL}{SL}
\qtl{270.6}{3410}{SL}{SL}
\qtl{196}{3428}{TKW}{TKW}
\qtl{220.7}{3427}{NS}{NS}
\qtl{244}{3426}{PH}{PH}
\qtl{294}{3448}{Chl10}{Chl-10}
\qtl{501}{3214}{KNS}{KNS}
\qtl{504.5}{3608}{TKW}{TKW}
\qtl{698}{3379}{SL}{SL}

% legend
\foreach \cl/\lb/\y in {TKW/TKW/3479,KNS/KNS/3496,NS/NS/3511,PH/PH/3524,SL/SL/3537,ChlA/Chl-A/3551,Chl10/Chl-10/3566,NDVIA/NDVI-A/3580,NDVI10/NDVI-10/3593}{
  \fill[fill=\cl] (701.5,\y-3.5) rectangle ++(22.5,7);
  \node[leg] (l\cl) at (728,\y) {\lb};
}
\end{tikzpicture}
\end{document}
